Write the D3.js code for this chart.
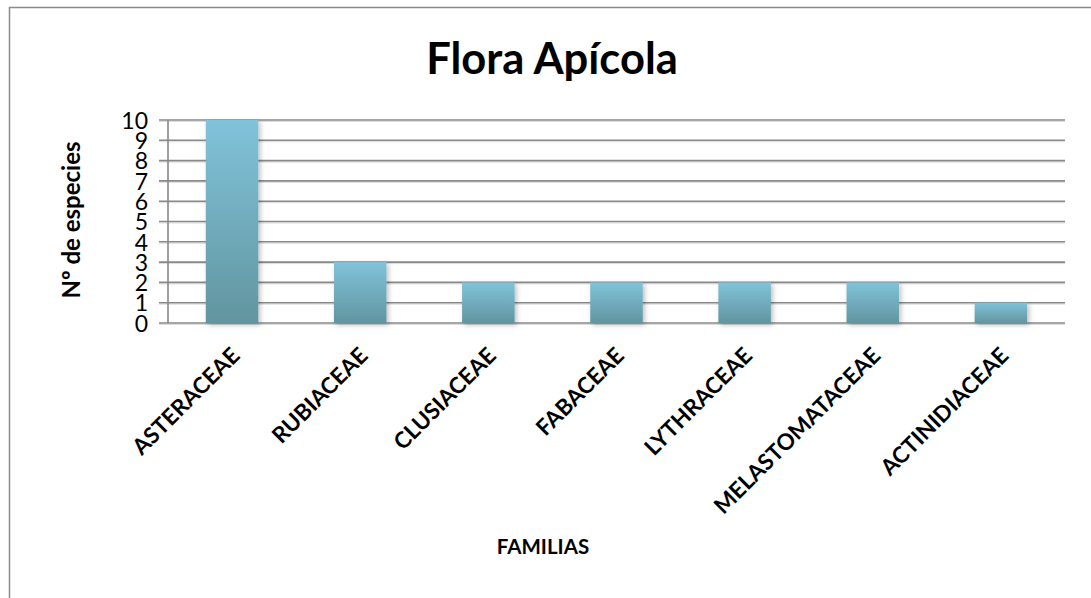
<!DOCTYPE html>
<html>
<head>
<meta charset="utf-8">
<script src="https://cdn.jsdelivr.net/npm/d3@7"></script>
<style>
  body { margin: 0; background: #fff; }
  text { font-family: Lato, "Open Sans", sans-serif; fill: #000; }
</style>
</head>
<body>
<script>
// data
const familias = ["ASTERACEAE", "RUBIACEAE", "CLUSIACEAE", "FABACEAE", "LYTHRACEAE", "MELASTOMATACEAE", "ACTINIDIACEAE"];
const especies = [10, 3, 2, 2, 2, 2, 1];
const yTicks = [0, 1, 2, 3, 4, 5, 6, 7, 8, 9, 10];

const width = 1091, height = 598;
const plot = {left: 168, right: 1065, top: 120, bottom: 323};

let svg = d3.select("body").append("svg")
  .attr("width", width)
  .attr("height", height);

let defs = svg.append("defs");
let grad = defs.append("linearGradient")
  .attr("id", "barGrad")
  .attr("x1", 0).attr("y1", 0).attr("x2", 0).attr("y2", 1);
grad.append("stop").attr("offset", "0%").attr("stop-color", "#80c3da");
grad.append("stop").attr("offset", "100%").attr("stop-color", "#62959f");

let shadow = defs.append("filter")
  .attr("id", "barShadow")
  .attr("x", "-30%").attr("y", "-10%").attr("width", "160%").attr("height", "130%");
shadow.append("feDropShadow")
  .attr("dx", 2).attr("dy", 2).attr("stdDeviation", 2.5)
  .attr("flood-color", "#000").attr("flood-opacity", 0.25);

// outer chart border (runs off the picture on the right and bottom)
svg.append("rect")
  .attr("x", 9.5).attr("y", 7.5)
  .attr("width", 1200).attr("height", 700)
  .attr("fill", "none")
  .attr("stroke", "#8a8a8a")
  .attr("stroke-width", 1.5);

let x = d3.scaleBand()
  .domain(familias)
  .range([plot.left, plot.right])
  .paddingInner(0.59)
  .paddingOuter(0.295);

let y = d3.scaleLinear()
  .domain([0, 10])
  .range([plot.bottom, plot.top]);

// gridlines
let grid = svg.append("g");
grid.selectAll("line.shade")
  .data(yTicks)
  .join("line")
  .attr("class", "shade")
  .attr("x1", plot.left - 9).attr("x2", plot.right)
  .attr("y1", d => y(d) + 1.5).attr("y2", d => y(d) + 1.5)
  .attr("stroke", "#dcdcdc").attr("stroke-width", 1);
grid.selectAll("line.main")
  .data(yTicks)
  .join("line")
  .attr("class", "main")
  .attr("x1", plot.left - 9).attr("x2", plot.right)
  .attr("y1", d => y(d)).attr("y2", d => y(d))
  .attr("stroke", "#888").attr("stroke-width", 1.6);

// y axis line
svg.append("line")
  .attr("x1", plot.left).attr("x2", plot.left)
  .attr("y1", plot.top).attr("y2", plot.bottom)
  .attr("stroke", "#888").attr("stroke-width", 1.6);

// y tick labels
let yAxis = d3.axisLeft(y).tickValues(yTicks).tickSize(0).tickPadding(20);
let ya = svg.append("g")
  .attr("transform", "translate(" + plot.left + ",0)")
  .call(yAxis);
ya.select(".domain").remove();
ya.selectAll("text")
  .style("font-family", "Lato, sans-serif")
  .style("font-size", "23px")
  .attr("fill", "#000")
  .attr("dy", "0.36em");

// bars
svg.append("g")
  .selectAll("rect")
  .data(familias)
  .join("rect")
  .attr("x", d => x(d))
  .attr("width", x.bandwidth())
  .attr("y", (d, i) => y(especies[i]))
  .attr("height", (d, i) => y(0) - y(especies[i]))
  .attr("fill", "url(#barGrad)")
  .attr("filter", "url(#barShadow)");

// category labels
svg.append("g")
  .selectAll("text")
  .data(familias)
  .join("text")
  .attr("transform", d => "translate(" + (x(d) + x.bandwidth() / 2 + 9) + ",357) rotate(-45)")
  .attr("text-anchor", "end")
  .style("font-size", "22.5px")
  .style("font-weight", "bold")
  .text(d => d);

// title
svg.append("text")
  .attr("x", 552).attr("y", 74)
  .attr("text-anchor", "middle")
  .style("font-size", "43.5px")
  .style("font-weight", "bold")
  .text("Flora Apícola");

// axis titles
svg.append("text")
  .attr("transform", "translate(80,220) rotate(-90)")
  .attr("text-anchor", "middle")
  .style("font-size", "24px")
  .style("font-weight", "bold")
  .text("Nº de especies");

svg.append("text")
  .attr("x", 543).attr("y", 554)
  .attr("text-anchor", "middle")
  .style("font-size", "20.5px")
  .style("font-weight", "bold")
  .text("FAMILIAS");
</script>
</body>
</html>
